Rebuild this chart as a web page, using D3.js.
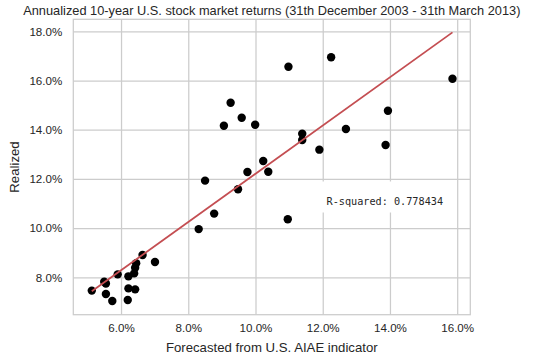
<!DOCTYPE html>
<html><head><meta charset="utf-8">
<script src="https://cdn.jsdelivr.net/npm/d3@7"></script>
<style>body{margin:0;background:#fff}svg{display:block}</style>
</head><body>
<svg id="c" width="536" height="357"></svg>
<script>
const titleText = "Annualized 10-year U.S. stock market returns (31th December 2003 - 31th March 2013)";
const xLabel = "Forecasted from U.S. AIAE indicator";
const yLabel = "Realized";
const xTicks = [6, 8, 10, 12, 14, 16];
const yTicks = [8, 10, 12, 14, 16, 18];
const forecasted = [5.13,5.50,5.55,5.55,5.74,5.90,6.20,6.22,6.22,6.42,6.39,6.42,6.45,6.64,7.01,8.31,8.50,8.77,9.06,9.26,9.48,9.59,9.76,9.99,10.23,10.38,10.96,10.98,11.39,11.39,11.90,12.25,12.69,13.87,13.94,15.86];
const realized   = [7.46,7.82,7.75,7.32,7.04,8.12,7.08,8.04,7.55,7.51,8.16,8.39,8.57,8.91,8.62,9.96,11.93,10.59,14.16,15.10,11.58,14.49,12.28,14.20,12.73,12.29,10.36,16.56,13.84,13.58,13.19,16.95,14.03,13.38,14.77,16.07];
const fitSlope = 0.981, fitIntercept = 2.40;
const rSquaredText = "R-squared: 0.778434";

const svg = d3.select("#c");
const L = 73.3, R = 470.3, T = 19.3, B = 314.7;
const x = d3.scaleLinear().domain([4.58, 16.39]).range([L, R]);
const y = d3.scaleLinear().domain([6.48, 18.49]).range([B, T]);
const grid = "#cccccc", txt = "#262626";
const fam = "'Liberation Sans', Arial, sans-serif";

// grid
svg.append("g").attr("transform", `translate(0,${B})`)
  .call(d3.axisBottom(x).tickValues(xTicks).tickSize(-(B - T)).tickFormat(d => d.toFixed(1) + "%").tickPadding(9))
  .call(g => g.select(".domain").remove())
  .call(g => g.selectAll("line").attr("stroke", grid).attr("stroke-width", 1.25))
  .call(g => g.selectAll("text").attr("fill", txt).style("font-family", fam).style("font-size", "11.6px"));
svg.append("g").attr("transform", `translate(${L},0)`)
  .call(d3.axisLeft(y).tickValues(yTicks).tickSize(-(R - L)).tickFormat(d => d.toFixed(1) + "%").tickPadding(11))
  .call(g => g.select(".domain").remove())
  .call(g => g.selectAll("line").attr("stroke", grid).attr("stroke-width", 1.25))
  .call(g => g.selectAll("text").attr("fill", txt).style("font-family", fam).style("font-size", "11.6px"));

// frame
svg.append("rect").attr("x", L).attr("y", T).attr("width", R - L).attr("height", B - T)
  .attr("fill", "none").attr("stroke", grid).attr("stroke-width", 1.25);

// points
const pts = forecasted.map((f, i) => ({f, r: realized[i]}));
svg.append("g").selectAll("circle").data(pts).join("circle")
  .attr("cx", d => x(d.f)).attr("cy", d => y(d.r)).attr("r", 4.2).attr("fill", "#000");

// regression line
const x0 = d3.min(forecasted), x1 = d3.max(forecasted);
svg.append("line").attr("x1", x(x0)).attr("y1", y(fitIntercept + fitSlope * x0))
  .attr("x2", x(x1)).attr("y2", y(fitIntercept + fitSlope * x1))
  .attr("stroke", "#c44e52").attr("stroke-width", 1.8);

// R-squared box
const rg = svg.append("g");
const rt = rg.append("text").attr("x", 326.5).attr("y", 204.5)
  .style("font-family", "'DejaVu Sans Mono', monospace").style("font-size", "10.2px")
  .attr("fill", txt).text(rSquaredText);
const bb = rt.node().getBBox();
rg.insert("rect", "text").attr("x", bb.x - 5).attr("y", 181.5).attr("width", bb.width + 10).attr("height", 31)
  .attr("fill", "#fff");

// labels
svg.append("text").attr("x", (L + R) / 2).attr("y", 14.5).attr("text-anchor", "middle")
  .style("font-family", fam).style("font-size", "12.8px").attr("fill", txt).text(titleText);
svg.append("text").attr("x", (L + R) / 2).attr("y", 351.5).attr("text-anchor", "middle")
  .style("font-family", fam).style("font-size", "13.2px").attr("fill", txt).text(xLabel);
svg.append("text").attr("transform", `translate(19,${(T + B) / 2}) rotate(-90)`).attr("text-anchor", "middle")
  .style("font-family", fam).style("font-size", "13.2px").attr("fill", txt).text(yLabel);
</script>
</body></html>
